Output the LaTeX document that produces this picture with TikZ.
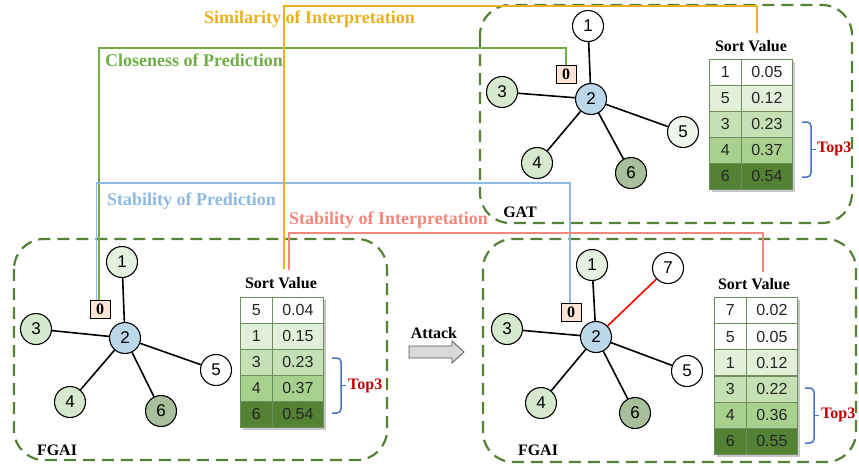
\documentclass[tikz,border=0pt]{standalone}
\usepackage{fontspec}
\setmainfont{Liberation Serif}
\newfontfamily\numfont{Liberation Sans}
\definecolor{dgreen}{HTML}{548235}
\definecolor{nblue}{HTML}{BDD7EA}
\definecolor{ngreen}{HTML}{D6E9CF}
\definecolor{nlight}{HTML}{E4F1DE}
\definecolor{nvlight}{HTML}{EEF6EB}
\definecolor{ndark}{HTML}{A8BF9B}
\definecolor{peach}{HTML}{FBE3D6}
\definecolor{rtwo}{HTML}{E2EFDA}
\definecolor{rthree}{HTML}{C5E0B4}
\definecolor{rfour}{HTML}{A9D18E}
\definecolor{rfive}{HTML}{548235}
\definecolor{cellb}{HTML}{6E8E5E}
\definecolor{cyel}{HTML}{EBB020}
\definecolor{cgreen}{HTML}{70AD47}
\definecolor{cblue}{HTML}{8DB9E2}
\definecolor{cred}{HTML}{F4877B}
\definecolor{bracecol}{HTML}{4472C4}
\definecolor{topred}{HTML}{C00000}
\tikzset{
  gnode/.style={circle, draw=black, line width=1.1pt, minimum size=31pt, inner sep=0pt, font=\numfont\fontsize{17}{17}\selectfont},
  zbox/.style={draw=black, line width=0.9pt, fill=peach, minimum width=20pt, minimum height=18pt, inner sep=0pt, font=\bfseries\fontsize{16}{16}\selectfont},
  gedge/.style={line width=1.6pt, black},
  panel/.style={draw=dgreen, line width=2.2pt, dash pattern=on 12pt off 7pt, rounded corners=30pt},
  cell/.style={draw=cellb, line width=0.8pt, minimum height=26pt, inner sep=0pt, text=black!85, font=\numfont\fontsize{16}{16}\selectfont},
  svtitle/.style={font=\bfseries\fontsize{16}{16}\selectfont, inner sep=1pt},
  metric/.style={font=\bfseries\fontsize{18}{18}\selectfont, inner sep=0pt, anchor=base west},
  conn/.style={line width=1.4pt},
  plabel/.style={font=\bfseries\fontsize{16}{16}\selectfont, inner sep=0pt},
  topthree/.style={font=\bfseries\fontsize{16}{16}\selectfont, text=topred, inner sep=0pt, anchor=west},
  bracestyle/.style={draw=bracecol, line width=1.5pt, rounded corners=4pt}
}
\newcommand{\sorttable}[6]{%
  \fill[black!22] (#2+3,#3+3) rectangle (#2+86,#3+#5*#4+3);
  \foreach \a/\b/\c [count=\r from 0] in {#6} {
    \node[cell, fill=\c, minimum width=32pt, anchor=north west] (#1a\r) at (#2,#3+\r*#4) {\a};
    \node[cell, fill=\c, minimum width=51pt, anchor=north west] (#1b\r) at (#2+32,#3+\r*#4) {\b};
  }}
\newcommand{\topbrace}[3]{%
  \draw[bracestyle] (#1,#2) -- (#1+9,#2) -- (#1+9,#3) -- (#1,#3);
  \draw[draw=bracecol, line width=1.5pt] (#1+9,#2/2+#3/2) -- (#1+14,#2/2+#3/2);}
\begin{document}
\begin{tikzpicture}[x=1pt,y=-1pt]
\useasboundingbox (0,0) rectangle (859,469);

% panels
\draw[panel] (480,5) rectangle (852,223);
\draw[panel] (14,239) rectangle (387,460);
\draw[panel] (483,239) rectangle (856,462);

% ---------- GAT graph ----------
\node[gnode, fill=white] (g1) at (588,26) {1};
\node[gnode, fill=ngreen] (g3) at (502,92) {3};
\node[gnode, fill=nblue] (g2) at (591,99) {2};
\node[gnode, fill=nvlight] (g5) at (683,132) {5};
\node[gnode, fill=ngreen] (g4) at (537,163) {4};
\node[gnode, fill=ndark] (g6) at (631,173) {6};
\node[zbox] (g0) at (566,74) {0};
\foreach \t in {g1,g3,g5,g4,g6} \draw[gedge] (g2) -- (\t);
\node[svtitle] (svG) at (751,46) {Sort Value};
\sorttable{g}{709}{59}{26}{5}{1/0.05/white, 5/0.12/rtwo, 3/0.23/rthree, 4/0.37/rfour, 6/0.54/rfive}
\topbrace{802}{122}{177}
\node[topthree] (gtop) at (817,149) {Top3};
\node[plabel] (gatlab) at (520,212) {GAT};

% ---------- left FGAI graph ----------
\node[gnode, fill=nlight] (l1) at (122,262) {1};
\node[gnode, fill=ngreen] (l3) at (36,329) {3};
\node[gnode, fill=nblue] (l2) at (125,338) {2};
\node[gnode, fill=white] (l5) at (216,370) {5};
\node[gnode, fill=ngreen] (l4) at (70,402) {4};
\node[gnode, fill=ndark] (l6) at (161,411) {6};
\node[zbox] (l0) at (100,309) {0};
\foreach \t in {l1,l3,l5,l4,l6} \draw[gedge] (l2) -- (\t);
\node[svtitle] (svL) at (281,283) {Sort Value};
\sorttable{l}{240}{297}{26}{5}{5/0.04/white, 1/0.15/rtwo, 3/0.23/rthree, 4/0.37/rfour, 6/0.54/rfive}
\topbrace{332}{358}{413}
\node[topthree] (ltop) at (348,386) {Top3};
\node[plabel] (llab) at (57,450) {FGAI};

% ---------- right FGAI graph ----------
\node[gnode, fill=nlight] (r1) at (592,265) {1};
\node[gnode, fill=white] (r7) at (668,268) {7};
\node[gnode, fill=ngreen] (r3) at (507,329) {3};
\node[gnode, fill=nblue] (r2) at (596,337) {2};
\node[gnode, fill=white] (r5) at (687,371) {5};
\node[gnode, fill=ngreen] (r4) at (541,403) {4};
\node[gnode, fill=ndark] (r6) at (635,413) {6};
\node[zbox] (r0) at (571,312) {0};
\foreach \t in {r1,r3,r5,r4,r6} \draw[gedge] (r2) -- (\t);
\draw[gedge, red] (r2) -- (r7);
\node[svtitle] (svR) at (754,284) {Sort Value};
\sorttable{r}{714}{297}{26.2}{6}{7/0.02/white, 5/0.05/white, 1/0.12/rtwo, 3/0.22/rthree, 4/0.36/rfour, 6/0.55/rfive}
\topbrace{805}{388}{443}
\node[topthree] (rtop) at (821,415) {Top3};
\node[plabel] (rlab) at (538,450) {FGAI};

% attack arrow
\node[font=\bfseries\fontsize{16}{16}\selectfont, inner sep=0pt] (atk) at (434,333) {Attack};
\draw[fill=black!15, draw=black!65, line width=0.8pt] (409,346) -- (452,346) -- (452,341) -- (464,352) -- (452,363) -- (452,358) -- (409,358) -- cycle;

% ---------- connectors ----------
\coordinate (yTop) at (0,6);
\coordinate (gTop) at (0,48);
\coordinate (bTop) at (0,183);
\coordinate (rTop) at (0,233);
\coordinate (yL) at ([xshift=3pt,yshift=7pt]svL.north);
\coordinate (yG) at ([xshift=6pt,yshift=6pt]svG.north);
\coordinate (gL) at ([xshift=-1pt]l0.north);
\coordinate (bL) at ([xshift=-3.5pt]l0.north);
\coordinate (bR) at ([xshift=-1pt]r0.north);
\coordinate (rL) at ([xshift=8pt,yshift=6pt]svL.north);
\coordinate (rR) at ([xshift=9pt,yshift=5pt]svR.north);

\draw[conn, cgreen] (g0.north) -- (g0.north |- gTop) -| (gL);
\draw[conn, cblue] (bL) -- (bL |- bTop) -| (bR);
\draw[conn, cyel] (yL) -- (yL |- yTop) -| (yG);
\draw[conn, cred] (rL) -- (rL |- rTop) -| (rR);

% metric labels
\node[metric, text=cyel] (mSim) at (204,23.5) {Similarity of Interpretation};
\node[metric, text=cgreen] (mClo) at (105,66) {Closeness of Prediction};
\node[metric, text=cblue] (mSP) at (107,205) {Stability of Prediction};
\node[metric, text=cred] (mSI) at (289,224) {Stability of Interpretation};
\end{tikzpicture}
\end{document}
